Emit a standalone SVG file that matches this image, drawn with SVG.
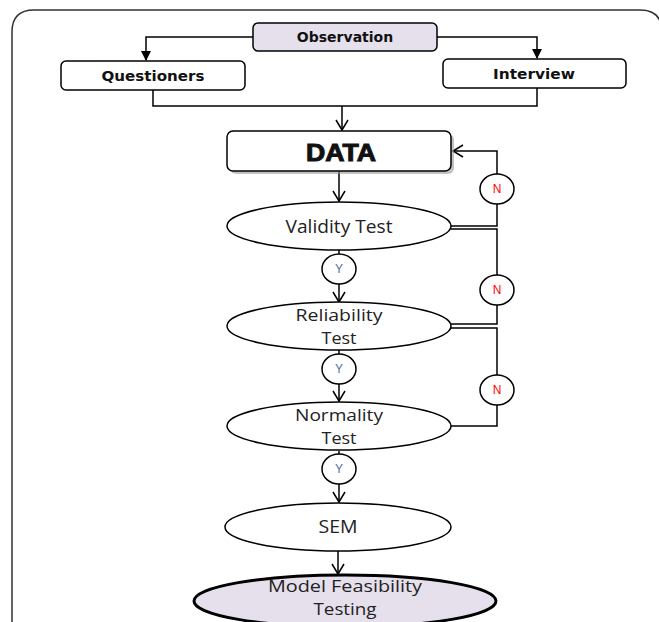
<svg xmlns="http://www.w3.org/2000/svg" width="659" height="622" viewBox="0 0 659 622">
<defs>
<marker id="tri" markerWidth="10" markerHeight="10" refX="9" refY="5" orient="auto" markerUnits="userSpaceOnUse">
<path d="M0,0 L10,5 L0,10 Z" fill="#000"/>
</marker>
<marker id="vee" markerWidth="14" markerHeight="14" refX="12" refY="7" orient="auto" markerUnits="userSpaceOnUse">
<path d="M2,1 L12,7 L2,13" fill="none" stroke="#000" stroke-width="1.5"/>
</marker>
</defs>
<style>
.box{fill:#fff;stroke:#000;stroke-width:1.5}
.obs{fill:#e6e0ec;stroke:#000;stroke-width:1.5}
.ell{fill:#fff;stroke:#000;stroke-width:1.5}
.bt{font-family:"DejaVu Sans",sans-serif;font-weight:bold;font-size:14px;text-anchor:middle;fill:#111}
.et{font-family:"Open Sans","Liberation Sans",sans-serif;font-size:18px;text-anchor:middle;fill:#222}
.et2{font-family:"Open Sans","Liberation Sans",sans-serif;font-size:16px;text-anchor:middle;fill:#222}
.c{fill:#fff;stroke:#000;stroke-width:1.5}
.n{font-family:"Liberation Sans",sans-serif;font-size:12px;text-anchor:middle;fill:#ff0000}
.y{font-family:"Liberation Sans",sans-serif;font-size:12px;text-anchor:middle;fill:#4f6fa8}
.ln{fill:none;stroke:#000;stroke-width:1.5}
</style>
<rect x="0" y="0" width="659" height="622" fill="#fff"/>
<path d="M12,640 L12,32 Q12,10 34,10 L640,10 Q662,10 662,32 L662,640" fill="none" stroke="#333" stroke-width="1.5"/>

<g id="connectors">
<path class="ln" d="M253,37 L146,37 L146,60" marker-end="url(#tri)"/>
<path class="ln" d="M437,37 L537,37 L537,58" marker-end="url(#tri)"/>
<path class="ln" d="M153,90 L153,106 L537,106 L537,88"/>
<path class="ln" d="M342,106 L342,130" marker-end="url(#vee)"/>
<path class="ln" d="M339,171 L339,201" marker-end="url(#vee)"/>
<path class="ln" d="M339,250 L339,254"/>
<path class="ln" d="M339,284 L339,302" marker-end="url(#vee)"/>
<path class="ln" d="M339,350 L339,354"/>
<path class="ln" d="M339,384 L339,401" marker-end="url(#vee)"/>
<path class="ln" d="M339,451 L339,454"/>
<path class="ln" d="M339,484 L339,502" marker-end="url(#vee)"/>
<path class="ln" d="M338,551 L338,574" marker-end="url(#vee)"/>
<path class="ln" d="M451,226 L497,226 L497,204"/>
<path class="ln" d="M497,174 L497,151 L453,151" marker-end="url(#vee)"/>
<path class="ln" d="M451,229 L497,229 L497,275"/>
<path class="ln" d="M497,305 L497,324 L450,324"/>
<path class="ln" d="M450,328 L497,328 L497,375"/>
<path class="ln" d="M497,405 L497,426 L450,426"/>
</g>

<g id="observation">
<rect class="obs" x="253" y="23" width="184" height="28" rx="5"/>
<text class="bt" x="345" y="42">Observation</text>
</g>
<g id="questioners">
<rect class="box" x="61" y="61" width="184" height="29" rx="5"/>
<text class="bt" x="153" y="81" textLength="103" lengthAdjust="spacingAndGlyphs">Questioners</text>
</g>
<g id="interview">
<rect class="box" x="443" y="59" width="183" height="29" rx="5"/>
<text class="bt" x="534" y="79" textLength="82" lengthAdjust="spacingAndGlyphs">Interview</text>
</g>
<g id="data">
<rect x="230" y="134" width="224" height="40" rx="6" fill="#999" opacity="0.6"/>
<rect class="box" x="227" y="131" width="224" height="40" rx="6"/>
<text x="341" y="161" font-family="Liberation Sans,sans-serif" font-weight="bold" font-size="24" text-anchor="middle" fill="#111" stroke="#111" stroke-width="1" textLength="70" lengthAdjust="spacingAndGlyphs">DATA</text>
</g>
<g id="validity">
<ellipse class="ell" cx="339" cy="226" rx="112" ry="24"/>
<text class="et" x="339" y="233" textLength="107" lengthAdjust="spacingAndGlyphs">Validity Test</text>
</g>
<g id="reliability">
<ellipse class="ell" cx="339" cy="326" rx="112" ry="24"/>
<text class="et2" x="339" y="321" textLength="87" lengthAdjust="spacingAndGlyphs">Reliability</text>
<text class="et2" x="339" y="344" textLength="35" lengthAdjust="spacingAndGlyphs">Test</text>
</g>
<g id="normality">
<ellipse class="ell" cx="339" cy="426" rx="112" ry="24"/>
<text class="et2" x="339" y="421" textLength="88" lengthAdjust="spacingAndGlyphs">Normality</text>
<text class="et2" x="339" y="444" textLength="35" lengthAdjust="spacingAndGlyphs">Test</text>
</g>
<g id="sem">
<ellipse class="ell" cx="338" cy="527" rx="113" ry="24"/>
<text class="et" x="338" y="533" textLength="39" lengthAdjust="spacingAndGlyphs">SEM</text>
</g>
<g id="model">
<ellipse cx="345" cy="601" rx="151" ry="26" fill="#e6e0ec" stroke="#000" stroke-width="3"/>
<text class="et2" x="345" y="592" textLength="154" lengthAdjust="spacingAndGlyphs">Model Feasibility</text>
<text class="et2" x="345" y="615" textLength="63" lengthAdjust="spacingAndGlyphs">Testing</text>
</g>
<g id="y1"><ellipse class="c" cx="339" cy="269" rx="17" ry="15"/><text class="y" x="339" y="273">Y</text></g>
<g id="y2"><ellipse class="c" cx="339" cy="369" rx="17" ry="15"/><text class="y" x="339" y="373">Y</text></g>
<g id="y3"><ellipse class="c" cx="339" cy="469" rx="17" ry="15"/><text class="y" x="339" y="473">Y</text></g>
<g id="n1"><ellipse class="c" cx="497" cy="189" rx="17" ry="15"/><text class="n" x="497" y="193">N</text></g>
<g id="n2"><ellipse class="c" cx="497" cy="290" rx="17" ry="15"/><text class="n" x="497" y="294">N</text></g>
<g id="n3"><ellipse class="c" cx="497" cy="390" rx="17" ry="15"/><text class="n" x="497" y="394">N</text></g>
</svg>
